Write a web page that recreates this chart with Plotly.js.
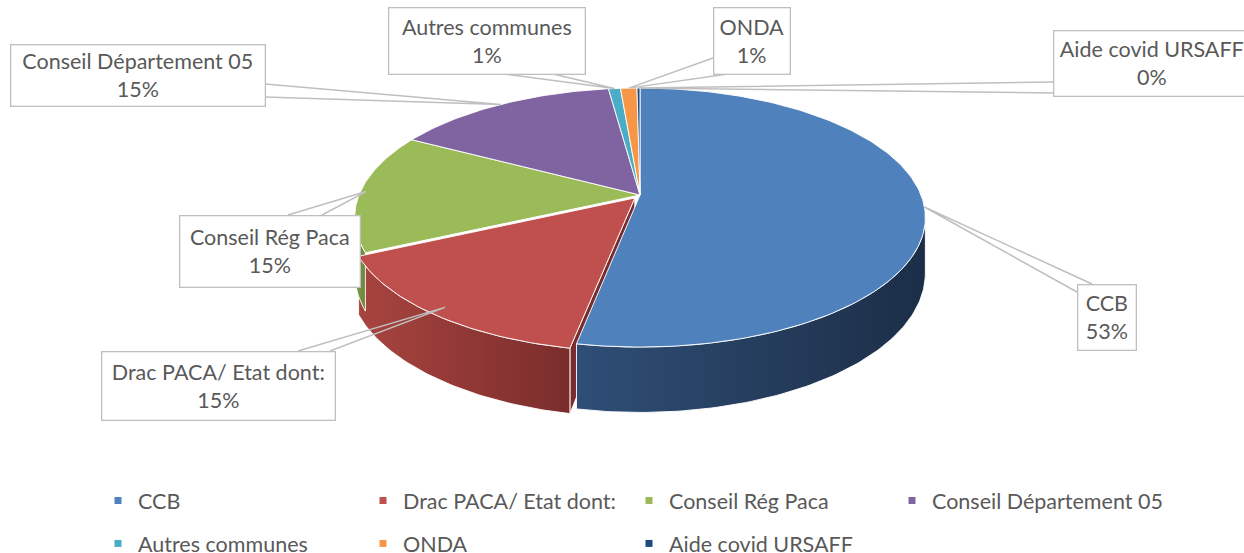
<!DOCTYPE html>
<html>
<head>
<meta charset="utf-8">
<script src="https://cdn.plot.ly/plotly-3.0.1.min.js"></script>
<style>html,body{margin:0;padding:0;background:#fff;}#chart{width:1244px;height:553px;}</style>
</head>
<body>
<div id="chart"></div>
<script>
// ---- data ----
const labels = ['CCB', 'Drac PACA/ Etat dont:', 'Conseil Rég Paca', 'Conseil Département 05', 'Autres communes', 'ONDA', 'Aide covid URSAFF'];
const values = [53.0, 15.0, 14.9, 15.0, 0.8, 1.1, 0.2];
const colors = ['#4F81BD', '#C0504D', '#9BBB59', '#8064A2', '#4BACC6', '#F79646', '#1F497D'];
const sideLight = ['#2F4E76', '#A8443F', '#809D48', '#654F82', '#3A8A9E', '#C5763A', '#183A63'];
const sideDark = ['#1C2E47', '#7A2D2C', '#6C853B', '#4E3D66', '#2D6B7B', '#9A5B2C', '#112A48'];
const explode = [0, 0.03, 0, 0, 0, 0, 0];
const legendOf = ['legend', 'legend2', 'legend3', 'legend4', 'legend', 'legend2', 'legend3'];

// ---- geometry (layout constants) ----
const CX = 640, CY = 195, R = 281, S = 125.6, K = 0.174, D = 54;
function proj(th, r, dz, ox, oy) {
  const t = th * Math.PI / 180;
  const X = r * Math.sin(t) + ox, Y = r * Math.cos(t) + oy;
  const den = 1 + K * Y;
  return [CX + R * X / den, CY - S * Y / den + D * dz / den];
}
function arc(a0, a1, dz, ox, oy) {
  const pts = [];
  const n = Math.max(2, Math.ceil(Math.abs(a1 - a0)));
  for (let j = 0; j <= n; j++) pts.push(proj(a0 + (a1 - a0) * j / n, 1, dz, ox, oy));
  return pts;
}

const total = values.reduce((a, b) => a + b, 0);
const slices = [];
let acc = 0;
values.forEach((v, i) => {
  const a0 = acc / total * 360; acc += v; const a1 = acc / total * 360;
  const m = (a0 + a1) / 2, e = explode[i];
  slices.push({a0, a1, m, ox: e * Math.sin(m * Math.PI / 180), oy: e * Math.cos(m * Math.PI / 180)});
});

function poly(pts, fill, extra) {
  const tr = {
    type: 'scatter', mode: 'lines', x: pts.map(p => p[0]).concat([pts[0][0]]), y: pts.map(p => p[1]).concat([pts[0][1]]),
    fill: 'toself', fillcolor: fill, line: {color: 'rgba(255,255,255,0.9)', width: 1},
    hoverinfo: 'skip', showlegend: false
  };
  return Object.assign(tr, extra || {});
}

const traces = [];
// radial walls of exploded slices
slices.forEach((s, i) => {
  if (!explode[i]) return;
  const pts = [proj(0, 0, 0, s.ox, s.oy), proj(s.a0, 1, 0, s.ox, s.oy), proj(s.a0, 1, 1, s.ox, s.oy), proj(0, 0, 1, s.ox, s.oy)];
  traces.push(poly(pts, sideDark[i]));
});
// outer sides (visible front part)
slices.forEach((s, i) => {
  const st = Math.max(s.a0, 100), en = Math.min(s.a1, 260);
  if (st >= en) return;
  const pts = arc(st, en, 0, s.ox, s.oy).concat(arc(en, st, 1, s.ox, s.oy));
  traces.push(poly(pts, sideLight[i], {fillgradient: {type: 'horizontal', colorscale: [[0, sideLight[i]], [1, sideDark[i]]]}}));
});
// top faces
slices.forEach((s, i) => {
  const pts = [proj(0, 0, 0, s.ox, s.oy)].concat(arc(s.a0, s.a1, 0, s.ox, s.oy));
  traces.push(poly(pts, colors[i], {name: labels[i]}));
});
// legend entries
labels.forEach((lab, i) => {
  traces.push({
    type: 'scatter', mode: 'markers', x: [null], y: [null], name: lab,
    marker: {symbol: 'square', size: 7, color: colors[i]},
    legend: legendOf[i], legendgroup: 'g' + i, showlegend: true, hoverinfo: 'skip'
  });
});

// ---- callouts ----
const boxes = [
  {l: 1077, t: 284, r: 1136, b: 350, base: [[1077, 292], [1092, 284]], f: 1.0},
  {l: 101, t: 351, r: 335, b: 420, base: [[298, 351], [330, 351]], f: 0.95},
  {l: 179, t: 215, r: 360, b: 287, base: [[288, 215], [322, 215]], f: 0.98},
  {l: 10, t: 44, r: 265, b: 106, base: [[265, 84], [265, 97]], f: 1.0},
  {l: 388, t: 7, r: 585, b: 74, base: [[505, 74], [553, 74]], f: 1.0},
  {l: 713, t: 7, r: 790, b: 74, base: [[713, 58], [728, 74]], f: 1.0},
  {l: 1053, t: 30, r: 1250, b: 96, base: [[1053, 82], [1053, 93]], f: 1.0}
];
const FONT = 'Lato, "Open Sans", sans-serif';
const annotations = [], shapes = [];
boxes.forEach((bx, i) => {
  const s = slices[i];
  const p = proj(s.m, bx.f, 0, s.ox, s.oy);
  shapes.push({type: 'path', xref: 'x', yref: 'y', layer: 'above',
    path: 'M' + bx.base[0][0] + ',' + bx.base[0][1] + ' L' + p[0] + ',' + p[1] + ' L' + bx.base[1][0] + ',' + bx.base[1][1],
    line: {color: '#BFBFBF', width: 1.5}});
  const pct = Math.round(values[i] / total * 100);
  annotations.push({
    xref: 'x', yref: 'y', x: (bx.l + bx.r) / 2, y: (bx.t + bx.b) / 2, showarrow: false,
    text: labels[i] + '<br>' + pct + '%', align: 'center',
    width: bx.r - bx.l - 4, height: bx.b - bx.t - 4, borderpad: 1,
    bgcolor: '#FFFFFF', bordercolor: '#BFBFBF', borderwidth: 1.3,
    font: {family: FONT, size: 21.5, color: '#595959'}
  });
});

function leg(xText, yTop) {
  return {x: (xText - 40) / 1244, y: 1 - yTop / 553, xanchor: 'left', yanchor: 'top', orientation: 'v',
    bgcolor: 'rgba(0,0,0,0)', borderwidth: 0, tracegroupgap: 12,
    font: {family: FONT, size: 21.5, color: '#595959'}};
}

const layout = {
  width: 1244, height: 553, margin: {l: 0, r: 0, t: 0, b: 0, autoexpand: false},
  paper_bgcolor: '#FFFFFF', plot_bgcolor: '#FFFFFF',
  xaxis: {range: [0, 1244], visible: false, fixedrange: true},
  yaxis: {range: [553, 0], visible: false, fixedrange: true},
  showlegend: true,
  legend: leg(138, 480), legend2: leg(403, 480), legend3: leg(669, 480), legend4: leg(932, 480),
  annotations: annotations, shapes: shapes
};
Plotly.newPlot('chart', traces, layout, {staticPlot: true, displayModeBar: false});
</script>
</body>
</html>
